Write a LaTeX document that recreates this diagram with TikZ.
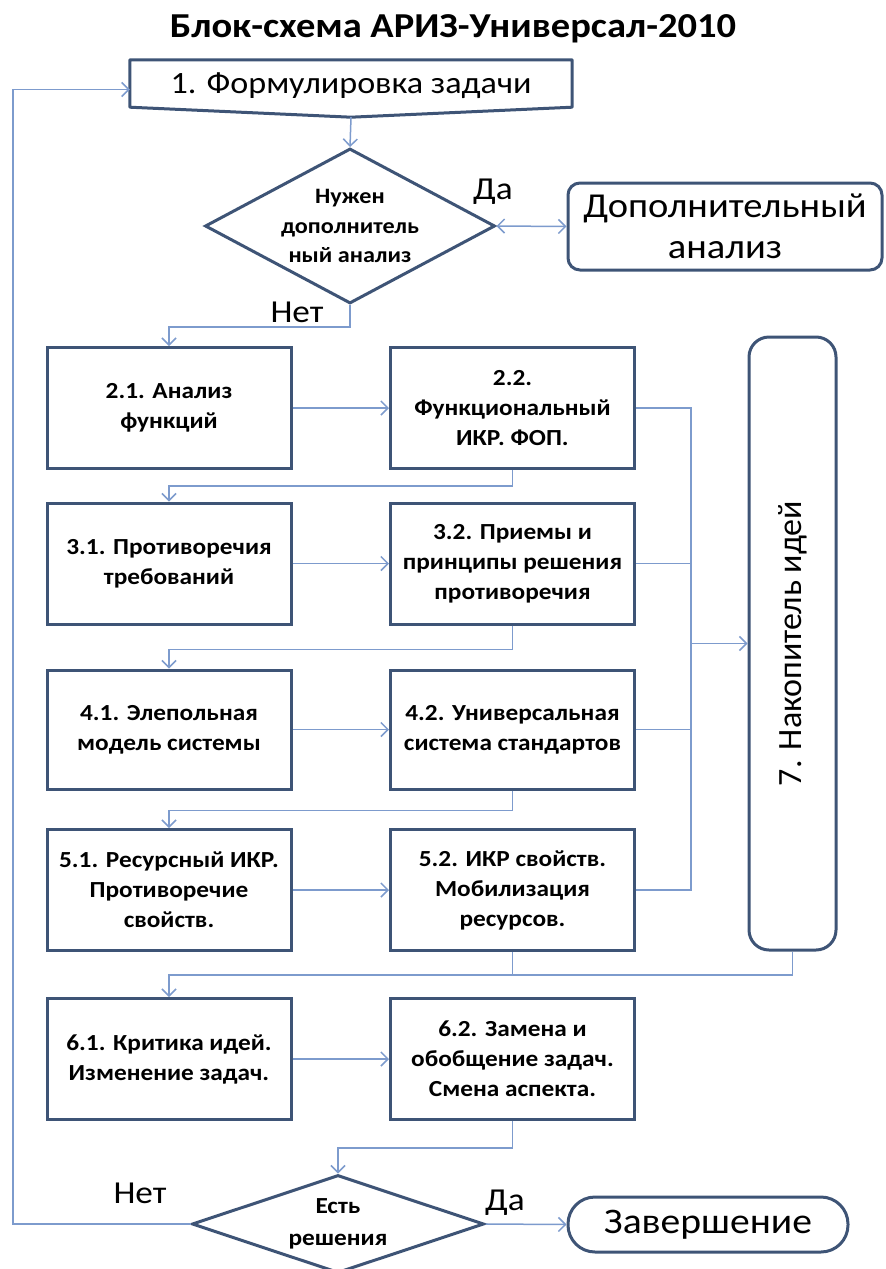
\documentclass[tikz,border=0pt]{standalone}
\usepackage{fontspec}
\setmainfont{Carlito}[FakeStretch=1.1]
\newfontfamily\pryamoy{Carlito}
\usetikzlibrary{shapes.geometric, arrows.meta}

\definecolor{ramka}{RGB}{62,84,118}
\definecolor{strelka}{RGB}{125,155,205}

\tikzset{
  blok/.style={draw=ramka, line width=3pt, fill=white, minimum width=244, minimum height=121,
    align=center, inner sep=1pt, font=\fontsize{23}{30}\selectfont\bfseries},
  okrug/.style={draw=ramka, line width=3pt, fill=white, align=center, inner sep=0pt},
  vopros/.style={diamond, draw=ramka, line width=3pt, fill=white, inner sep=0pt},
  liniya/.style={draw=strelka, line width=1.5pt},
  svyaz/.style={liniya, ->, >={Straight Barb[length=7pt,width=14pt]}},
  metka/.style={font=\fontsize{32}{34}\selectfont, inner sep=0pt},
}

\begin{document}
\begin{tikzpicture}[x=1pt,y=-1pt]
\useasboundingbox (0,0) rectangle (886,1269);

\node[anchor=base, font=\fontsize{35}{38}\selectfont\bfseries] (zagol) at (453,37) {Блок-схема АРИЗ-Универсал-2010};

% 1. постановка
\coordinate (f1c) at (351,83.5);
\node[minimum width=442, minimum height=47, inner sep=0pt] (f1) at (f1c) {};
\draw[ramka, line width=3pt, fill=white, line join=round] (f1.north west) -- (f1.north east) -- (f1.south east)
  -- ([yshift=-10pt]f1.south) coordinate (f1tip) -- (f1.south west) -- cycle;
\node[font=\fontsize{31}{34}\selectfont] (f1text) at ([yshift=-2pt]f1c) {1. Формулировка задачи};

\node[vopros, minimum width=290, minimum height=155] (q1) at (350,226) {};
\node[align=center, font=\fontsize{22}{29.5}\selectfont\bfseries] at (q1) {Нужен\\дополнитель\\ный анализ};

\node[okrug, rounded corners=12pt, minimum width=314, minimum height=87, font=\fontsize{35}{41}\selectfont] (dop) at (725,226.5) {Дополнительный\\анализ};

% блоки по строкам
\node[blok] (b21) at (169,408) {2.1. Анализ\\функций};
\node[blok] (b22) at (512.5,408) {2.2.\\Функциональный\\ИКР. ФОП.};
\node[blok] (b31) at (169,563.5) {3.1. Противоречия\\требований};
\node[blok] (b32) at (512.5,563.5) {3.2. Приемы и\\принципы решения\\противоречия};
\node[blok, minimum height=119] (b41) at (169,729.5) {4.1. Элепольная\\модель системы};
\node[blok, minimum height=119] (b42) at (512.5,729.5) {4.2. Универсальная\\система стандартов};
\node[blok] (b51) at (169,890) {5.1. Ресурсный ИКР.\\Противоречие\\свойств.};
\node[blok] (b52) at (512.5,890) {5.2. ИКР свойств.\\Мобилизация\\ресурсов.};
\node[blok] (b61) at (169,1059) {6.1. Критика идей.\\Изменение задач.};
\node[blok] (b62) at (512.5,1059) {6.2. Замена и\\обобщение задач.\\Смена аспекта.};

\node[okrug, rounded corners=20pt, minimum width=87, minimum height=613] (nak) at (792.5,643.5) {};
\node[rotate=90, font=\fontsize{34}{36}\pryamoy] at (nak) {7. Накопитель идей};

\node[vopros, minimum width=292, minimum height=98] (q2) at (338,1224) {};
\node[align=center, font=\fontsize{23}{32}\selectfont\bfseries] at (q2) {Есть\\решения};

\node[okrug, rounded corners=27pt, minimum width=280, minimum height=55, font=\fontsize{36}{38}\selectfont] (zav) at (708,1224.5) {Завершение};

% подписи
\node[metka] (da1) at (493,192) {Да};
\node[metka] (net1) at (297,312) {Нет};
\node[metka] (net2) at (140,1193) {Нет};
\node[metka] (da2) at (505,1203) {Да};

\coordinate (sborx) at (691,0);
\coordinate (vozvrat) at (13,0);
\coordinate (s56) at (512.5,975);

% связи
\draw[svyaz] (f1tip) -- (q1.north);
\draw[svyaz, <->] (q1.east) -- (dop.west);
\draw[svyaz] (q1.south) -- ++(0,22) -| (b21.north);

\draw[svyaz] (b21.east) -- (b22.west);
\draw[svyaz] (b31.east) -- (b32.west);
\draw[svyaz] (b41.east) -- (b42.west);
\draw[svyaz] (b51.east) -- (b52.west);
\draw[svyaz] (b61.east) -- (b62.west);

\draw[svyaz] (b22.south) -- ++(0,16) -| (b31.north);
\draw[svyaz] (b32.south) -- ++(0,24) -| (b41.north);
\draw[svyaz] (b42.south) -- ++(0,20) -| (b51.north);
\draw[liniya] (b52.south) -- (s56);
\draw[svyaz] (nak.south) |- (s56) -| (b61.north);
\draw[svyaz] (b62.south) -- ++(0,27) -| (q2.north);

% к накопителю
\draw[liniya] (b22.east) -- (b22.east -| sborx) -- (b52.east -| sborx) -- (b52.east);
\draw[liniya] (b32.east) -- (b32.east -| sborx);
\draw[liniya] (b42.east) -- (b42.east -| sborx);
\draw[svyaz] (nak.west -| sborx) -- (nak.west);

\draw[svyaz] (q2.east) -- (zav.west);
\draw[svyaz] (q2.west) -| ([yshift=-6pt]f1.west -| vozvrat) -- ([yshift=-6pt]f1.west);

\end{tikzpicture}
\end{document}
